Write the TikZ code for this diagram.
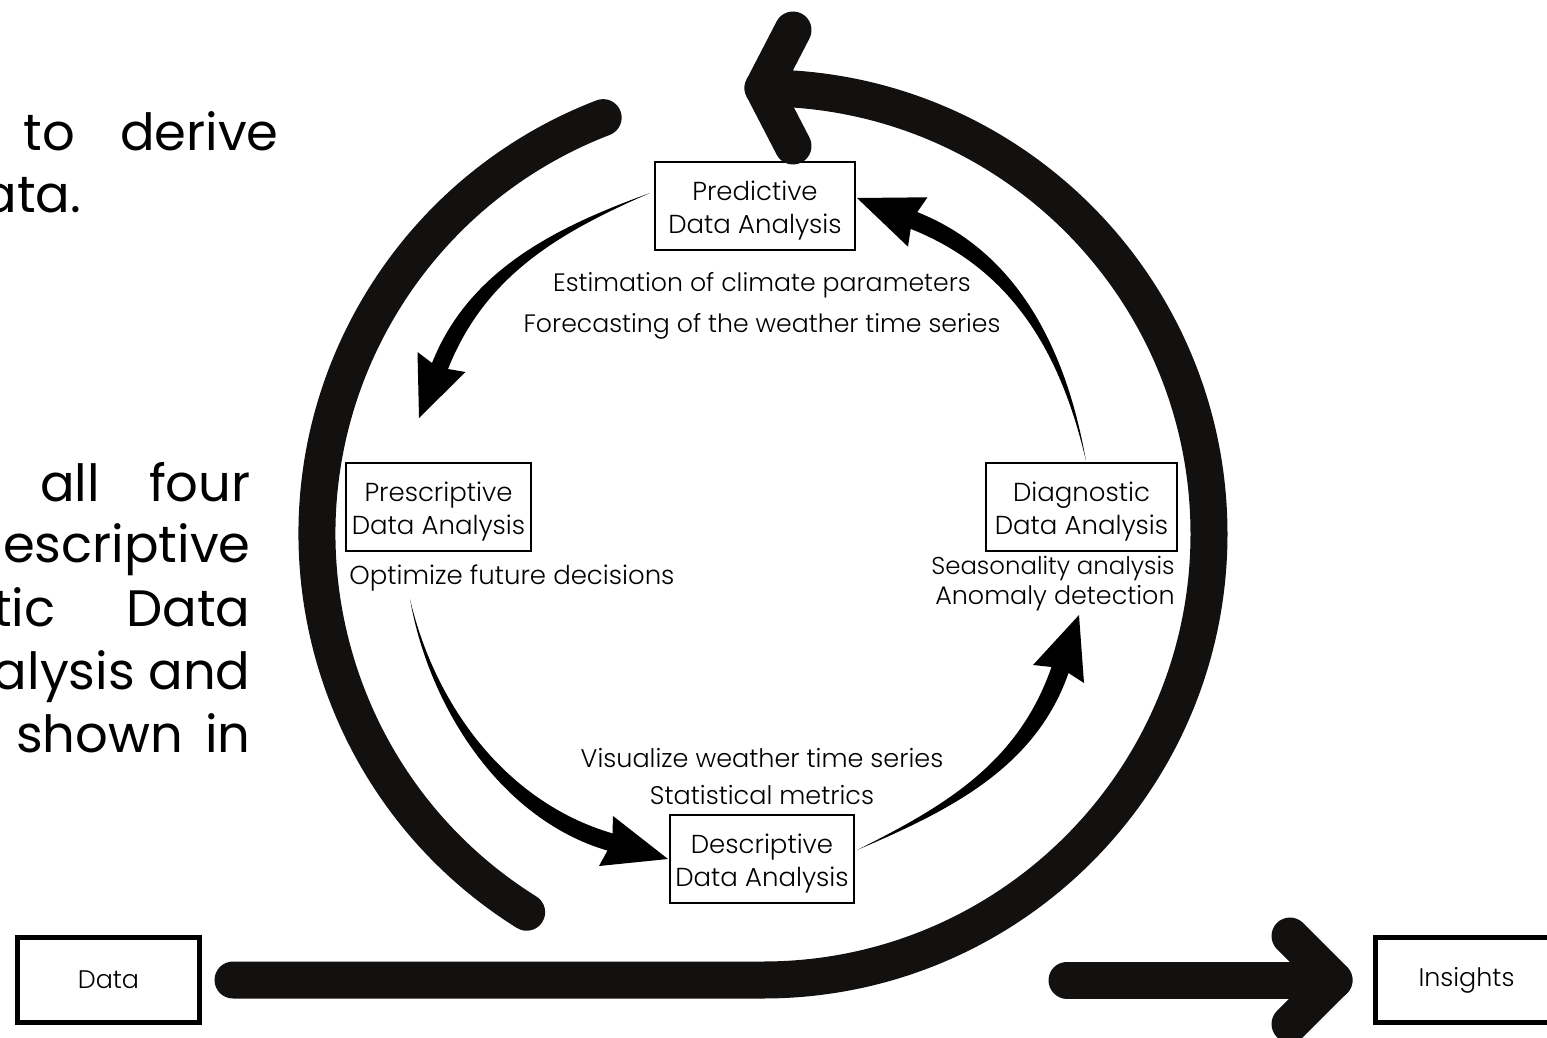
\documentclass[tikz,border=0pt]{standalone}
\usepackage{fontspec}
\IfFontExistsTF{Poppins Light}{\setmainfont{Poppins Light}}{\setmainfont{Poppins}}
\newfontfamily\bodyfont{Poppins}
\usetikzlibrary{calc}
\definecolor{ink}{HTML}{121110}
\begin{document}
\begin{tikzpicture}[x=0.5pt,y=-0.5pt,
  bigline/.style={draw=ink,line width=18.5pt,line cap=round,line join=round},
  stagebox/.style={draw=black,line width=1pt,inner sep=0pt,minimum height=44pt},
  stagetext/.style={inner sep=0pt,align=center,font=\fontsize{13}{16.5}\selectfont},
  endbox/.style={draw=black,line width=2.5pt,inner sep=0pt,minimum width=91pt,minimum height=42.5pt,font=\fontsize{12.7}{14}\selectfont},
  note/.style={inner sep=0pt,font=\fontsize{12.6}{14}\selectfont},
  bodytext/.style={inner sep=0pt,font=\bodyfont\fontsize{25.6}{31}\selectfont},
  taper/.style={fill=black,draw=none}]
\path[use as bounding box] (0,0) rectangle (1547,1038);
\clip (0,0) rectangle (1547,1038);

% body text fragments
\node[bodytext,anchor=base east] (t1) at (279,150) {to\hspace{22.5pt}derive};
\node[bodytext,anchor=base west] (t2) at (-18,212) {ata.};
\node[bodytext,anchor=base east] (p1) at (251,501) {all\hspace{24.5pt}four};
\node[bodytext,anchor=base east] (p2) at (251,562) {escriptive};
\node[bodytext,anchor=base east] (p3) at (251,626) {tic\hspace{35.5pt}Data};
\node[bodytext,anchor=base east] (p4) at (251,689) {alysis and};
\node[bodytext,anchor=base east] (p5) at (251,752) {shown\hspace{11pt}in};

% end boxes
\node[endbox] (data) at (108.5,980) {Data};
\node[endbox] (ins) at (1466.5,980) {Insights};

% stage boxes
\node[stagebox,minimum width=100pt] (pred) at (755,206) {};
\node[stagetext] (predtxt) at ($(pred)+(0,4.5)$) {Predictive\\Data Analysis};
\node[stagebox,minimum width=92.5pt] (presc) at (438.5,507) {};
\node[stagetext] (presctxt) at ($(presc)+(0,4.5)$) {Prescriptive\\Data Analysis};
\node[stagebox,minimum width=95.5pt] (diag) at (1081.5,507) {};
\node[stagetext] (diagtxt) at ($(diag)+(0,4.5)$) {Diagnostic\\Data Analysis};
\node[stagebox,minimum width=92pt] (desc) at (762,859) {};
\node[stagetext] (desctxt) at ($(desc)+(0,4.5)$) {Descriptive\\Data Analysis};

% notes
\node[note,align=center] (prednote) at (762,305.5) {Estimation of climate parameters\\[6.5pt]Forecasting of the weather time series};
\node[note,anchor=west,font=\fontsize{13}{14}\selectfont] (prescnote) at (349,578) {Optimize future decisions};
\node[note,align=right,anchor=east] (diagnote) at (1175,584) {\fontsize{12.2}{14}\selectfont Seasonality analysis\\[1pt]\fontsize{12.7}{14}\selectfont Anomaly detection};
\node[note,align=center,font=\fontsize{12.75}{14}\selectfont] (descnote) at (762,776.5) {Visualize weather time series\\[4.5pt]Statistical metrics};

% big outer cycle
\coordinate (C) at (763,534);
\coordinate (start) at (233,980);
\coordinate (bot) at (763,980);
\draw[bigline] (start) -- (bot) arc[start angle=90,end angle=-90,radius=446] coordinate (top);
\coordinate (tipA) at (793,30);
\coordinate (tipB) at (793,146);
\draw[bigline] (tipA) -- (top) -- (tipB);
\draw[bigline] ($(C)+(122:446)$) arc[start angle=122,end angle=249,radius=446];

% exit arrow
\coordinate (exs) at (1067,980);
\coordinate (exv) at (1334,980);
\draw[bigline] (exs) -- (exv);
\draw[bigline] (1290,936) -- (exv) -- (1290,1024);

% inner tapered arrows
\fill[taper] (650,193) .. controls (556,227) and (469,270) .. (432,363) -- (417.5,352) -- (419,418) -- (465.5,372) -- (448,369) .. controls (485,276) and (558,233) .. (650,193) -- cycle;
\fill[taper] (410,599) .. controls (429,708) and (501.5,819.6) .. (607.5,850.6) -- (599,866) -- (668,859) -- (613,816) -- (612.5,833.4) .. controls (506.5,802.4) and (435,706) .. (410,599) -- cycle;
\fill[taper] (857,850) .. controls (946.7,805.3) and (1018.5,762) .. (1051.5,667) -- (1033,665) -- (1079,615) -- (1084,683) -- (1068.5,673) .. controls (1035.5,768) and (949.3,810.7) .. (857,850) -- cycle;
\fill[taper] (1086,461) .. controls (1067,352.4) and (1019.3,252.6) .. (917.3,212.1) -- (927.5,197.3) -- (857,198) -- (908,246.7) -- (910.7,228.9) .. controls (1012.7,269.4) and (1061,353.6) .. (1086,461) -- cycle;
\end{tikzpicture}
\end{document}
